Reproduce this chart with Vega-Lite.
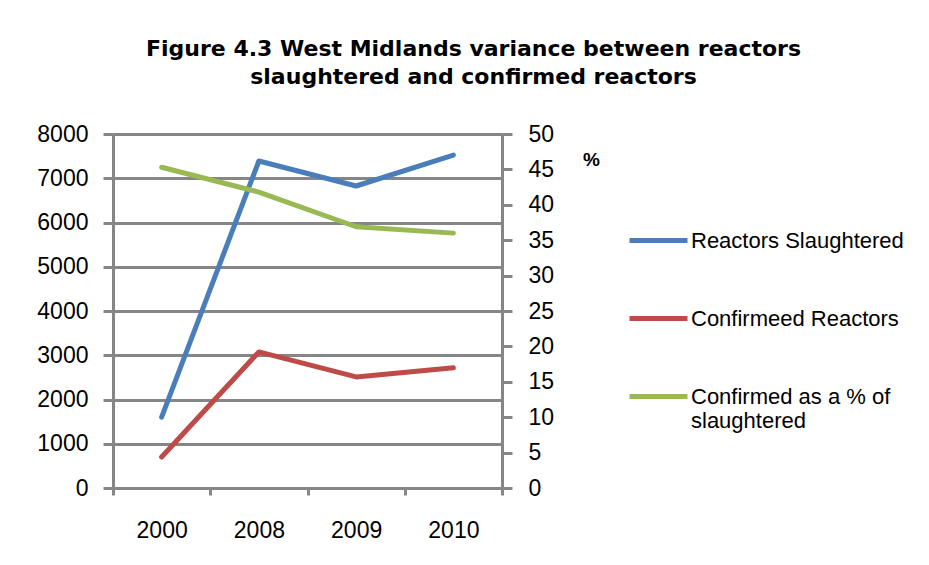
{
  "$schema": "https://vega.github.io/schema/vega-lite/v6.json",
  "width": 389,
  "height": 354,
  "autosize": {"type": "none"},
  "padding": {"left": 113, "top": 134, "right": 427, "bottom": 77},
  "background": "white",
  "title": {
    "text": ["Figure 4.3 West Midlands variance between reactors", "slaughtered and confirmed reactors"],
    "font": "DejaVu Sans",
    "fontSize": 22,
    "fontWeight": "bold",
    "lineHeight": 28,
    "anchor": "middle",
    "dx": 166,
    "offset": 34,
    "color": "black"
  },
  "data": {
    "values": [
      {"year": "2000", "series": "Reactors Slaughtered", "value": 1600},
      {"year": "2008", "series": "Reactors Slaughtered", "value": 7390},
      {"year": "2009", "series": "Reactors Slaughtered", "value": 6825},
      {"year": "2010", "series": "Reactors Slaughtered", "value": 7525},
      {"year": "2000", "series": "Confirmeed Reactors", "value": 700},
      {"year": "2008", "series": "Confirmeed Reactors", "value": 3075},
      {"year": "2009", "series": "Confirmeed Reactors", "value": 2510},
      {"year": "2010", "series": "Confirmeed Reactors", "value": 2715},
      {"year": "2000", "series": "Confirmed as a % of slaughtered", "value": 45.3},
      {"year": "2008", "series": "Confirmed as a % of slaughtered", "value": 41.8},
      {"year": "2009", "series": "Confirmed as a % of slaughtered", "value": 36.9},
      {"year": "2010", "series": "Confirmed as a % of slaughtered", "value": 36.0}
    ]
  },
  "encoding": {
    "x": {
      "field": "year",
      "type": "ordinal",
      "title": null,
      "axis": {
        "tickBand": "extent",
        "labelAngle": 0,
        "labelFont": "Liberation Sans",
        "labelFontSize": 23,
        "labelColor": "black",
        "labelPadding": 24,
        "domainColor": "#868686",
        "domainWidth": 3,
        "tickColor": "#868686",
        "tickWidth": 3,
        "tickSize": 7,
        "grid": false
      }
    },
    "color": {
      "field": "series",
      "type": "nominal",
      "scale": {
        "domain": ["Reactors Slaughtered", "Confirmeed Reactors", "Confirmed as a % of slaughtered"],
        "range": ["#4a7ebb", "#be4b48", "#98b954"]
      },
      "legend": {
        "title": null,
        "orient": "none",
        "legendX": 514,
        "legendY": 75,
        "symbolType": "stroke",
        "symbolSize": 3364,
        "symbolStrokeWidth": 5,
        "labelFont": "Liberation Sans",
        "labelFontSize": 22,
        "labelColor": "black",
        "labelLimit": 400,
        "labelOffset": 1,
        "rowPadding": 35,
        "labelExpr": "datum.label == 'Confirmed as a % of slaughtered' ? ['Confirmed as a % of', 'slaughtered'] : datum.label"
      }
    }
  },
  "layer": [
    {
      "transform": [{"filter": "datum.series != 'Confirmed as a % of slaughtered'"}],
      "mark": {"type": "line", "strokeWidth": 5, "strokeCap": "round", "strokeJoin": "round"},
      "encoding": {
        "y": {
          "field": "value",
          "type": "quantitative",
          "title": null,
          "scale": {"domain": [0, 8000], "nice": false},
          "axis": {
            "values": [0, 1000, 2000, 3000, 4000, 5000, 6000, 7000, 8000],
            "format": "d",
            "labelFont": "Liberation Sans",
            "labelFontSize": 23,
            "labelColor": "black",
            "labelPadding": 15,
            "domainColor": "#868686",
            "domainWidth": 3,
            "tickColor": "#868686",
            "tickWidth": 3,
            "tickSize": 10,
            "grid": true,
            "gridColor": "#868686",
            "gridWidth": 3,
            "gridOpacity": 1
          }
        }
      }
    },
    {
      "transform": [{"filter": "datum.series == 'Confirmed as a % of slaughtered'"}],
      "mark": {"type": "line", "strokeWidth": 5, "strokeCap": "round", "strokeJoin": "round"},
      "encoding": {
        "y": {
          "field": "value",
          "type": "quantitative",
          "title": "%",
          "scale": {"domain": [0, 50], "nice": false},
          "axis": {
            "orient": "right",
            "values": [0, 5, 10, 15, 20, 25, 30, 35, 40, 45, 50],
            "grid": false,
            "labelFont": "Liberation Sans",
            "labelFontSize": 23,
            "labelColor": "black",
            "labelPadding": 16,
            "domainColor": "#868686",
            "domainWidth": 3,
            "tickColor": "#868686",
            "tickWidth": 3,
            "tickSize": 10,
            "titleAngle": 0,
            "titleFont": "Liberation Sans",
            "titleFontSize": 19,
            "titleFontWeight": "bold",
            "titleColor": "black",
            "titleX": 89,
            "titleY": 25,
            "titleAlign": "center",
            "titleBaseline": "middle"
          }
        }
      }
    }
  ],
  "resolve": {"scale": {"y": "independent"}},
  "config": {"view": {"stroke": null}}
}
